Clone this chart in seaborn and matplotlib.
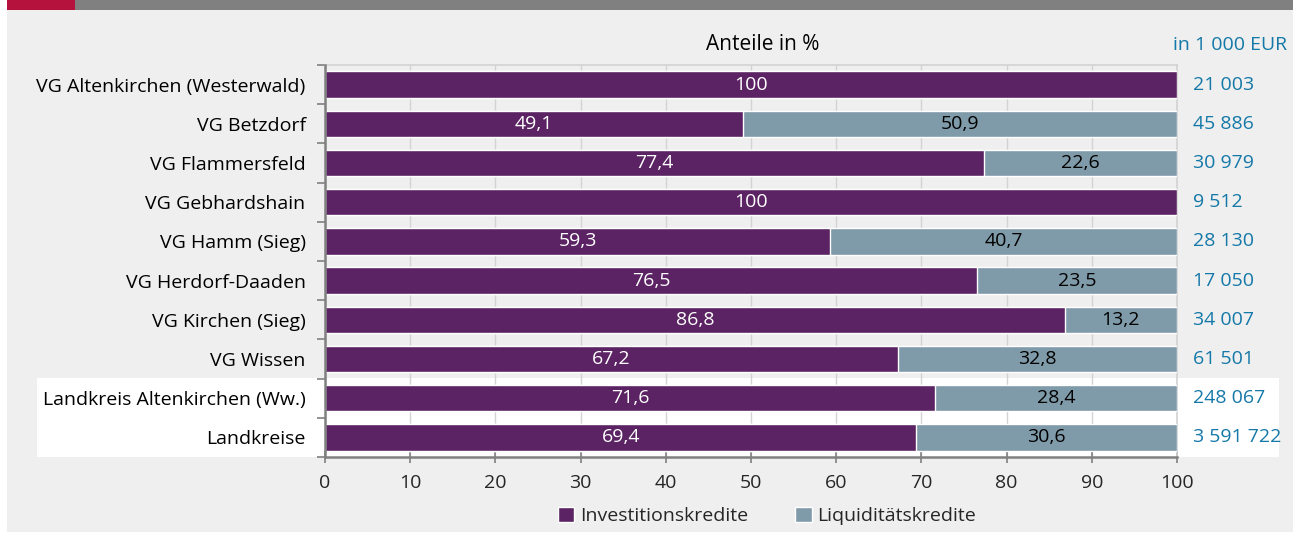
import matplotlib
matplotlib.use("Agg")
import matplotlib.pyplot as plt
import seaborn as sns
import pandas as pd
import numpy as np
from matplotlib.patches import Rectangle, Patch
from matplotlib.transforms import blended_transform_factory

categories = ["VG Altenkirchen (Westerwald)", "VG Betzdorf", "VG Flammersfeld",
              "VG Gebhardshain", "VG Hamm (Sieg)", "VG Herdorf-Daaden",
              "VG Kirchen (Sieg)", "VG Wissen", "Landkreis Altenkirchen (Ww.)",
              "Landkreise"]
invest = [100, 49.1, 77.4, 100, 59.3, 76.5, 86.8, 67.2, 71.6, 69.4]
liquid = [0, 50.9, 22.6, 0, 40.7, 23.5, 13.2, 32.8, 28.4, 30.6]
totals_eur = ["21 003", "45 886", "30 979", "9 512", "28 130", "17 050",
              "34 007", "61 501", "248 067", "3 591 722"]

PURPLE = "#5B2363"
GREYBLUE = "#7F9AA8"
BLUE = "#1478A8"
BG = "#EEEFEE"
FS = 14

sns.set_theme(style="white")
plt.rcParams["font.family"] = ["Open Sans", "DejaVu Sans"]

W, H = 1298, 534
fig = plt.figure(figsize=(W / 100, H / 100), dpi=100, facecolor="white")

def px_rect(x0, y0, x1, y1, color, z):
    fig.patches.append(Rectangle((x0 / W, 1 - y1 / H), (x1 - x0) / W, (y1 - y0) / H,
                                 transform=fig.transFigure, facecolor=color,
                                 edgecolor="none", zorder=z))

px_rect(7, 10, 1293, 532, BG, -10)
px_rect(7, 0, 1293, 10, "#808080", -9)
px_rect(7, 0, 75, 10, "#B5123E", -8)
px_rect(37, 378, 1279, 457, "white", -8)

ax = fig.add_axes([325 / W, 1 - 457 / H, (1177 - 325) / W, (457 - 65) / H])
ax.set_facecolor("none")

df = pd.DataFrame({"cat": categories, "invest": invest, "liquid": liquid})
df["total"] = df["invest"] + df["liquid"]

sns.barplot(data=df, y="cat", x="total", color=GREYBLUE, orient="h",
            width=0.67, ax=ax, saturation=1, zorder=3)
sns.barplot(data=df, y="cat", x="invest", color=PURPLE, orient="h",
            width=0.67, ax=ax, saturation=1, zorder=4)

fmt = lambda v: (f"{v:.1f}".replace(".", ",") if v != 100 else "100")
for i, (a, b) in enumerate(zip(invest, liquid)):
    ax.text(a / 2, i, fmt(a), ha="center", va="center", color="white",
            fontsize=FS, zorder=5)
    if b > 0:
        ax.text(a + b / 2, i, fmt(b), ha="center", va="center", color="black",
                fontsize=FS, zorder=5)

trans = blended_transform_factory(ax.transAxes, ax.transData)
for i, t in enumerate(totals_eur):
    ax.text(1.019, i, t, transform=trans, ha="left", va="center",
            color=BLUE, fontsize=FS)

ax.set_xlim(0, 100)
ax.set_ylim(len(categories) - 0.5, -0.5)
ax.set_xticks(np.arange(0, 101, 10))
ax.set_xlabel("")
ax.set_ylabel("")
ax.set_yticks(np.arange(len(categories)))
ax.set_yticklabels(categories)
ax.set_yticks(np.arange(-0.5, len(categories), 1), minor=True)
ax.tick_params(axis="y", which="major", length=0, pad=14, labelsize=FS,
               labelcolor="black")
ax.tick_params(axis="y", which="minor", length=6, width=1.2, color="#808080",
               left=True, direction="out")
ax.tick_params(axis="x", which="major", length=8, width=1.2, color="#808080",
               direction="inout", pad=8, labelsize=FS, bottom=True)
ax.grid(axis="x", color="#D3D3D3", linewidth=1, zorder=0)
ax.set_axisbelow(True)

for s in ["top", "right"]:
    ax.spines[s].set_color("#D3D3D3")
    ax.spines[s].set_linewidth(1.2)
for s in ["left", "bottom"]:
    ax.spines[s].set_color("#808080")
    ax.spines[s].set_linewidth(1.8)
    ax.spines[s].set_zorder(6)

fig.text(763 / W, 1 - 45 / H, "Anteile in %", ha="center", va="center",
         fontsize=15, color="black")
fig.text(1287 / W, 1 - 45 / H, "in 1 000 EUR", ha="right", va="center",
         fontsize=FS, color=BLUE)

handles = [Patch(facecolor=PURPLE, label="Investitionskredite"),
           Patch(facecolor=GREYBLUE, label="Liquiditätskredite")]
fig.legend(handles=handles, loc="center", bbox_to_anchor=(767 / W, 1 - 516 / H),
           ncol=2, frameon=False, fontsize=FS, handlelength=0.85,
           handleheight=0.85, handletextpad=0.3, columnspacing=2.4)

fig.savefig("out.png", dpi=100, facecolor=fig.get_facecolor())
